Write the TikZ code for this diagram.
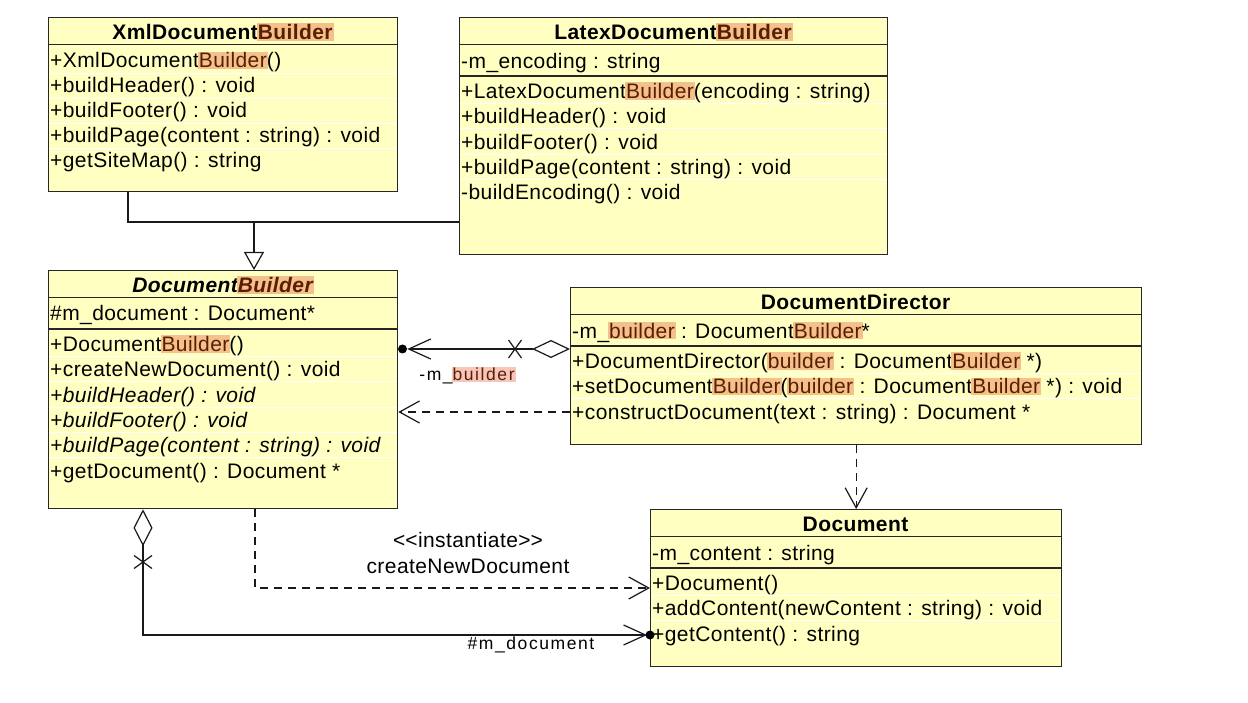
\documentclass[tikz,border=0pt]{standalone}
\usepackage{fontspec}
\setmainfont{Liberation Sans}[LetterSpace=2]
\newfontfamily\lblfont{Liberation Sans}[LetterSpace=9]
\usetikzlibrary{arrows.meta}

\definecolor{classfill}{HTML}{FFFFC2}
\definecolor{hlorange}{HTML}{F4C08C}
\definecolor{hlbrown}{HTML}{5A1E02}
\definecolor{hlpink}{HTML}{F7C5BA}
\setlength{\fboxsep}{1pt}
\newcommand{\hlb}[1]{\kern-1pt\relax\colorbox{hlorange}{\textcolor{hlbrown}{#1}}\kern-1pt\relax}
\newcommand{\hlp}[1]{\kern-1pt\relax\colorbox{hlpink}{\textcolor{hlbrown}{#1}}\kern-1pt\relax}

\tikzset{
  classbox/.style={draw=black!85, line width=1.3pt, fill=classfill, anchor=north west, inner sep=0pt},
  ctitle/.style={anchor=base, inner sep=0pt, font=\bfseries},
  member/.style={anchor=base west, inner sep=0pt},
  sepline/.style={black!85, line width=1.1pt},
  rowline/.style={white, line width=0.9pt},
  conn/.style={black!90, line width=1.2pt},
  dep/.style={conn, dash pattern=on 8pt off 6pt, -{Straight Barb[length=20pt, width=22pt]}},
  lbl/.style={anchor=base, inner sep=0pt, font=\lblfont\fontsize{17.5}{20}\selectfont}
}

\begin{document}
\fontsize{21}{25}\selectfont
\begin{tikzpicture}[x=1pt, y=-1pt]
    \fill[white] (0,0) rectangle (1248,703);
    \useasboundingbox (0,0) rectangle (1248,703);

    % classes
    \node[classbox, minimum width=349pt, minimum height=174pt] (xml) at (48,17) {};
    \node[classbox, minimum width=428pt, minimum height=237pt] (latex) at (459,17) {};
    \node[classbox, minimum width=349pt, minimum height=238pt] (builder) at (48,270) {};
    \node[classbox, minimum width=571pt, minimum height=157pt] (director) at (570,287) {};
    \node[classbox, minimum width=411pt, minimum height=157pt] (document) at (650,509) {};

    % XmlDocumentBuilder
    \draw[sepline] (xml.west |- 0,44.3) -- (xml.east |- 0,44.3);
    \foreach \y in {73,98,123,148}
        \draw[rowline] (49,\y) -- (396,\y);
    \node[ctitle] (xmlname) at (222.5,39.3) {XmlDocument\hlb{Builder}};
    \node[member] (xmlm1) at (50,68) {+XmlDocument\hlb{Builder}()};
    \node[member] (xmlm2) at (50,93) {+buildHeader() : void};
    \node[member] (xmlm3) at (50,118) {+buildFooter() : void};
    \node[member] (xmlm4) at (50,143) {+buildPage(content : string) : void};
    \node[member] (xmlm5) at (50,168) {+getSiteMap() : string};

    % LatexDocumentBuilder
    \draw[sepline] (latex.west |- 0,44.3) -- (latex.east |- 0,44.3);
    \draw[sepline] (latex.west |- 0,76) -- (latex.east |- 0,76);
    \foreach \y in {103.5,128.8,154.1,179.4}
        \draw[rowline] (460,\y) -- (886,\y);
    \node[ctitle] (latexname) at (673,39.3) {LatexDocument\hlb{Builder}};
    \node[member] (latexa1) at (461,68.3) {-m\_encoding : string};
    \node[member] (latexm1) at (461,98.5) {+LatexDocument\hlb{Builder}(encoding : string)};
    \node[member] (latexm2) at (461,123.8) {+buildHeader() : void};
    \node[member] (latexm3) at (461,149.1) {+buildFooter() : void};
    \node[member] (latexm4) at (461,174.4) {+buildPage(content : string) : void};
    \node[member] (latexm5) at (461,199.7) {-buildEncoding() : void};

    % DocumentBuilder
    \draw[sepline] (builder.west |- 0,297.5) -- (builder.east |- 0,297.5);
    \draw[sepline] (builder.west |- 0,329) -- (builder.east |- 0,329);
    \foreach \y in {356.5,381.8,407.1,432.4,457.7}
        \draw[rowline] (49,\y) -- (396,\y);
    \node[ctitle, font=\bfseries\itshape] (buildername) at (222.5,292.5) {Document\hlb{Builder}};
    \node[member] (buildera1) at (50,321) {\#m\_document : Document*};
    \node[member] (builderm1) at (50,351.5) {+Document\hlb{Builder}()};
    \node[member] (builderm2) at (50,376.8) {+createNewDocument() : void};
    \node[member, font=\itshape] (builderm3) at (50,402.1) {+buildHeader() : void};
    \node[member, font=\itshape] (builderm4) at (50,427.4) {+buildFooter() : void};
    \node[member, font=\itshape] (builderm5) at (50,452.7) {+buildPage(content : string) : void};
    \node[member] (builderm6) at (50,478) {+getDocument() : Document *};

    % DocumentDirector
    \draw[sepline] (director.west |- 0,314.5) -- (director.east |- 0,314.5);
    \draw[sepline] (director.west |- 0,346) -- (director.east |- 0,346);
    \foreach \y in {373.5,398.8}
        \draw[rowline] (571,\y) -- (1140,\y);
    \node[ctitle] (directorname) at (855.5,309.5) {DocumentDirector};
    \node[member] (directora1) at (572,338) {-m\_\hlb{builder} : Document\hlb{Builder}*};
    \node[member] (directorm1) at (572,368.5) {+DocumentDirector(\hlb{builder} : Document\hlb{Builder} *)};
    \node[member] (directorm2) at (572,393.8) {+setDocument\hlb{Builder}(\hlb{builder} : Document\hlb{Builder} *) : void};
    \node[member] (directorm3) at (572,419.1) {+constructDocument(text : string) : Document *};

    % Document
    \draw[sepline] (document.west |- 0,536.5) -- (document.east |- 0,536.5);
    \draw[sepline] (document.west |- 0,568) -- (document.east |- 0,568);
    \foreach \y in {595.5,620.8}
        \draw[rowline] (651,\y) -- (1060,\y);
    \node[ctitle] (documentname) at (855.5,531.5) {Document};
    \node[member] (documenta1) at (652,560) {-m\_content : string};
    \node[member] (documentm1) at (652,590.5) {+Document()};
    \node[member] (documentm2) at (652,615.8) {+addContent(newContent : string) : void};
    \node[member] (documentm3) at (652,641.1) {+getContent() : string};

    % generalization
    \coordinate (genjoin) at (254,222);
    \draw[conn] (xml.south -| 128,0) |- (latex.west |- genjoin);
    \draw[conn, -{Triangle[open, length=18pt, width=20pt]}] (genjoin) -- (builder.north -| genjoin);

    % director -> builder association
    \coordinate (assocx) at (515,349);
    \draw[conn, {Diamond[open, length=38pt, width=18pt]}-{Straight Barb[length=22pt, width=20pt]}, shorten >=9pt]
        (director.west |- assocx) -- (builder.east |- assocx);
    \fill[black] (402.5,349) circle (4.5);
    \draw[conn] (assocx) ++(-6.5,-9) -- ++(13,18) (assocx) ++(-6.5,9) -- ++(13,-18);
    \node[lbl] (assoclbl) at (467,381) {-m\_\hlp{builder}};

    % dependencies
    \draw[dep] (director.west |- 0,412) -- (builder.east |- 0,412);
    \draw[dep] (director.south) -- (document.north);
    \draw[dep] (builder.south -| 255,0) |- (document.west |- 0,588);
    \node[anchor=base, inner sep=0pt] (instlbl) at (468,547) {\textless\kern0pt\textless instantiate\textgreater\kern0pt\textgreater};
    \node[anchor=base, inner sep=0pt] (createlbl) at (468,573) {createNewDocument};

    % builder -> document composition
    \coordinate (compx) at (143,562);
    \draw[conn, {Diamond[open, length=37pt, width=19pt]}-{Straight Barb[length=22pt, width=20pt]}, shorten >=3pt]
        (builder.south -| compx) |- (document.west |- 0,635);
    \fill[black] (650,635) circle (4.5);
    \draw[conn] (compx) ++(-9,-6.5) -- ++(18,13) (compx) ++(-9,6.5) -- ++(18,-13);
    \node[lbl] (complbl) at (531,649) {\#m\_document};
\end{tikzpicture}
\end{document}
